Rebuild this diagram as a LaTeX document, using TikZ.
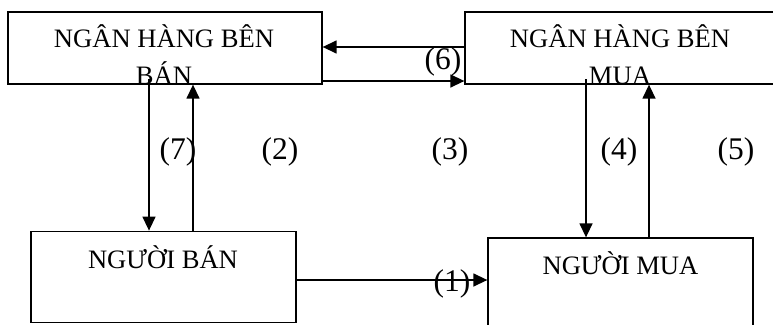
\documentclass[tikz,border=0pt]{standalone}
\usepackage{fontspec}
\setmainfont{Liberation Serif}
\usetikzlibrary{arrows.meta}
\tikzset{
  boxnode/.style={draw, line width=1.3pt, rectangle, inner sep=0pt},
  boxtext/.style={inner sep=0pt, anchor=base, font=\fontsize{26.6}{30}\selectfont},
  lbl/.style={inner sep=0pt, font=\fontsize{31.5}{36}\selectfont},
  arr/.style={line width=1.4pt, -{Triangle[length=14pt,width=13pt]}},
}
\begin{document}
\begin{tikzpicture}[x=1pt,y=-1pt]
\useasboundingbox (0,0) rectangle (773,324);
% boxes
\node[boxnode, minimum width=314pt, minimum height=72pt] (b1) at (165,48) {};
\node[boxnode, minimum width=310pt, minimum height=72pt] (b2) at (620,48) {};
\node[boxnode, minimum width=265pt, minimum height=91.5pt] (b3) at (163.5,277) {};
\node[boxnode, minimum width=265pt, minimum height=92pt] (b4) at (620.5,284) {};
% texts (clipped to boxes)
\begin{scope}
\clip (b1.south west) rectangle (b1.north east);
\node[boxtext] (t1a) at (164,47.5) {NGÂN HÀNG BÊN};
\node[boxtext] (t1b) at (164,84.5) {BÁN};
\end{scope}
\begin{scope}
\clip (b2.south west) rectangle (b2.north east);
\node[boxtext] (t2a) at (620,47.5) {NGÂN HÀNG BÊN};
\node[boxtext] (t2b) at (620,84.5) {MUA};
\end{scope}
\node[boxtext] (t3) at (163,268) {NGƯỜI BÁN};
\node[boxtext] (t4) at (620.5,274) {NGƯỜI MUA};
% helper coordinates
\coordinate (y6a) at (0,47);
\coordinate (y6b) at (0,81);
\coordinate (x7) at (149,79);
\coordinate (x2) at (193,0);
\coordinate (x4) at (586,79);
\coordinate (x5) at (649,0);
\coordinate (y1) at (0,280);
% connectors
\draw[arr] (b2.west |- y6a) -- (b1.east |- y6a);
\draw[arr] (b1.east |- y6b) -- (b2.west |- y6b);
\draw[arr] (x7) -- (x7 |- b3.north);
\draw[arr] (x2 |- b3.north) -- (x2 |- b1.south);
\draw[arr] (x4) -- (x4 |- b4.north);
\draw[arr] (x5 |- b4.north) -- (x5 |- b2.south);
\draw[arr] (b3.east |- y1) -- (b4.west |- y1);
% labels
\node[lbl] (l7) at (178,152) {(7)};
\node[lbl] (l2) at (280,152) {(2)};
\node[lbl] (l3) at (450,152) {(3)};
\node[lbl] (l4) at (619,152) {(4)};
\node[lbl] (l5) at (736,152) {(5)};
\node[lbl] (l6) at (443,62) {(6)};
\node[lbl] (l1) at (452,284) {(1)};
\end{tikzpicture}
\end{document}
